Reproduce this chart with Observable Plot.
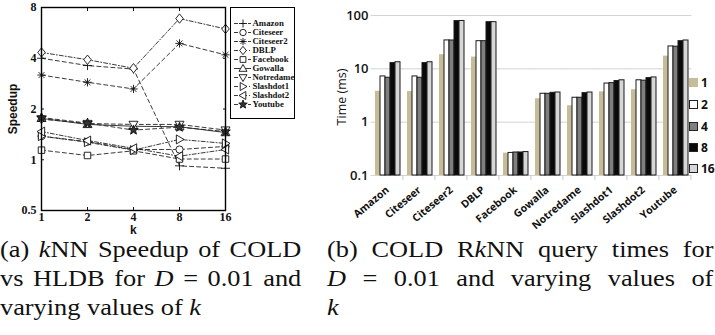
<!DOCTYPE html>
<html><head><meta charset="utf-8">
<script src="https://cdn.jsdelivr.net/npm/d3@7"></script>
<script src="https://cdn.jsdelivr.net/npm/@observablehq/plot@0.6"></script>
<style>
body{margin:0;width:715px;height:335px;overflow:hidden;background:#fff;position:relative}
.abs{position:absolute}
#leg{left:230px;top:7px;border:1px solid #000;background:#fff;line-height:0}
.cap{position:absolute;font-family:"Liberation Serif","Times New Roman",serif;font-size:23.5px;line-height:29px;color:#111;transform:scaleX(1.12);transform-origin:0 0}
.cap div{white-space:nowrap;text-align:justify;text-align-last:justify}
.cap div.last{text-align-last:left}
.lab{position:absolute;font-family:"Liberation Sans",Arial,sans-serif;font-weight:bold;font-size:12px;line-height:12px;color:#111}
#rleg{left:689px;top:0;font-family:"Open Sans",sans-serif;font-weight:bold;font-size:12px;color:#111}
#rleg div{position:absolute;left:0;display:flex;align-items:center;white-space:nowrap}
#rleg span.sw{display:inline-block;width:7px;height:7px;border:1px solid #222;margin-right:3px}
</style></head><body>
<div id="left" class="abs"></div>
<div id="leg" class="abs"></div>
<div id="right" class="abs" style="left:330px;top:0"></div>
<div id="rleg" class="abs"></div>
<div class="lab" style="left:-12px;top:103px;transform:rotate(-90deg)">Speedup</div>
<div class="lab" style="left:130px;top:225px;line-height:10px">k</div>
<div class="lab" style="left:314px;top:90px;transform:rotate(-90deg);font-family:'Open Sans',sans-serif;font-weight:normal;font-size:12.5px;line-height:14px">Time (ms)</div>
<div class="cap" style="left:0;top:235px;width:269px">
  <div>(a) <i>k</i>NN Speedup of COLD</div>
  <div>vs HLDB for <i>D</i> = 0.01 and</div>
  <div class="last">varying values of <i>k</i></div>
</div>
<div class="cap" style="left:327px;top:235px;width:345px">
  <div>(b) COLD R<i>k</i>NN query times for</div>
  <div><i>D</i> = 0.01 and varying values of</div>
  <div class="last"><i>k</i></div>
</div>
<script>
// ---------- Panel (a): kNN speedup ----------
const kValues = [1, 2, 4, 8, 16];
const speedupTicks = [0.5, 1, 2, 4, 8];
const seriesNames = ["Amazon","Citeseer","Citeseer2","DBLP","Facebook","Gowalla","Notredame","Slashdot1","Slashdot2","Youtube"];
const amazon    = [4.0, 3.62, 3.45, 0.92, 0.89];
const citeseer  = [1.38, 1.28, 1.15, 1.15, 1.20];
const citeseer2 = [3.18, 2.88, 2.63, 4.90, 4.19];
const dblp      = [4.33, 3.92, 3.49, 6.88, 5.97];
const facebook  = [1.14, 1.06, 1.13, 1.01, 1.01];
const gowalla   = [1.76, 1.62, 1.58, 1.57, 1.45];
const notredame = [1.74, 1.64, 1.62, 1.62, 1.50];
const slashdot1 = [1.38, 1.27, 1.14, 1.32, 1.25];
const slashdot2 = [1.47, 1.30, 1.17, 1.05, 1.15];
const youtube   = [1.78, 1.65, 1.50, 1.56, 1.47];
const seriesValues = [amazon,citeseer,citeseer2,dblp,facebook,gowalla,notredame,slashdot1,slashdot2,youtube];

const R = s => Math.sqrt(s/Math.PI);
const symbols = {
  plus:{draw(c,s){const r=R(s)*1.25;c.moveTo(-r,0);c.lineTo(r,0);c.moveTo(0,-r);c.lineTo(0,r);}},
  circle:{draw(c,s){const r=R(s);c.moveTo(r,0);c.arc(0,0,r,0,2*Math.PI);}},
  aster:{draw(c,s){const r=R(s)*1.15;for(let a=0;a<4;a++){const t=a*Math.PI/4;c.moveTo(-r*Math.cos(t),-r*Math.sin(t));c.lineTo(r*Math.cos(t),r*Math.sin(t));}}},
  diamond:{draw(c,s){const r=R(s)*1.3;c.moveTo(0,-r);c.lineTo(r*0.8,0);c.lineTo(0,r);c.lineTo(-r*0.8,0);c.closePath();}},
  square:{draw(c,s){const r=R(s)*0.9;c.rect(-r,-r,2*r,2*r);}},
  triUp:{draw(c,s){const r=R(s)*1.25;c.moveTo(0,-r);c.lineTo(r,r*0.7);c.lineTo(-r,r*0.7);c.closePath();}},
  triDown:{draw(c,s){const r=R(s)*1.25;c.moveTo(0,r);c.lineTo(r,-r*0.7);c.lineTo(-r,-r*0.7);c.closePath();}},
  triRight:{draw(c,s){const r=R(s)*1.25;c.moveTo(r,0);c.lineTo(-r*0.7,r);c.lineTo(-r*0.7,-r);c.closePath();}},
  triLeft:{draw(c,s){const r=R(s)*1.25;c.moveTo(-r,0);c.lineTo(r*0.7,r);c.lineTo(r*0.7,-r);c.closePath();}},
  star:{draw(c,s){const r=R(s)*1.4,ri=r*0.42;for(let i=0;i<10;i++){const a=-Math.PI/2+i*Math.PI/5,rr=i%2?ri:r;i?c.lineTo(rr*Math.cos(a),rr*Math.sin(a)):c.moveTo(rr*Math.cos(a),rr*Math.sin(a));}c.closePath();}}
};
const seriesSymbol = ["plus","circle","aster","diamond","square","triUp","triDown","triRight","triLeft","star"];
const seriesFill   = ["none","white","none","white","white","white","white","white","white","#333"];
const seriesDash   = ["4,3","4,3","4,3","4,2,1,2","4,3",null,"4,3","4,2,1,2","4,2,1,2","4,3"];

const leftMarks = [];
seriesNames.forEach((name,i)=>{
  const rows = kValues.map((k,j)=>({k, v: seriesValues[i][j]}));
  leftMarks.push(Plot.line(rows,{x:"k",y:"v",stroke:"#222",strokeWidth:0.9,strokeDasharray:seriesDash[i]}));
});
seriesNames.forEach((name,i)=>{
  const rows = kValues.map((k,j)=>({k, v: seriesValues[i][j]}));
  leftMarks.push(Plot.dot(rows,{x:"k",y:"v",symbol:symbols[seriesSymbol[i]],r:3.6,stroke:"#111",strokeWidth:0.9,fill:seriesFill[i]}));
});

const leftPlot = Plot.plot({
  width:300, height:235, marginLeft:41, marginRight:75, marginTop:7, marginBottom:25,
  style:{fontFamily:"'Liberation Serif','Times New Roman',serif", fontWeight:"bold", fontSize:"12px", color:"#111", background:"transparent"},
  x:{type:"log", base:2, domain:[1,16], label:null},
  y:{type:"log", base:2, domain:[0.5,8], label:null},
  marks:[
    Plot.axisX(kValues,{anchor:"bottom", tickSize:0, tickPadding:2, tickFormat:d=>String(d), label:null}),
    Plot.axisY(speedupTicks,{anchor:"left", tickSize:0, tickPadding:5, tickFormat:d=>String(d), label:null}),
    Plot.axisX(kValues,{anchor:"bottom", tickSize:-3, tickFormat:()=>"", label:null}),
    Plot.axisX(kValues,{anchor:"top", tickSize:-3, tickFormat:()=>"", label:null}),
    Plot.axisY(speedupTicks,{anchor:"left", tickSize:-3, tickFormat:()=>"", label:null}),
    Plot.axisY(speedupTicks,{anchor:"right", tickSize:-3, tickFormat:()=>"", label:null}),
    ...leftMarks,
    Plot.frame({stroke:"#000", strokeWidth:1.4})
  ]
});
document.getElementById("left").appendChild(leftPlot);

// legend for panel (a)
const legMarks = [];
seriesNames.forEach((name,i)=>{
  legMarks.push(Plot.ruleY([name],{y:d=>d, x1:0, x2:1, stroke:"#222", strokeWidth:0.9, strokeDasharray:seriesDash[i]}));
  legMarks.push(Plot.dot([name],{y:d=>d, x:0.5, symbol:symbols[seriesSymbol[i]], r:3.2, stroke:"#111", strokeWidth:0.9, fill:seriesFill[i]}));
});
legMarks.push(Plot.text(seriesNames,{y:d=>d, x:1, text:d=>d, textAnchor:"start", dx:1, fill:"#111"}));
const legPlot = Plot.plot({
  width:63, height:110, margin:0,
  style:{fontFamily:"'Liberation Serif','Times New Roman',serif", fontWeight:"bold", fontSize:"8.8px", background:"transparent"},
  x:{domain:[0,1], range:[3,20], axis:null},
  y:{type:"point", domain:seriesNames, range:[6,105], axis:null},
  marks:legMarks
});
document.getElementById("leg").appendChild(legPlot);

// ---------- Panel (b): RkNN query times ----------
const datasets = ["Amazon","Citeseer","Citeseer2","DBLP","Facebook","Gowalla","Notredame","Slashdot1","Slashdot2","Youtube"];
const kLabels = ["1","2","4","8","16"];
const timeK1  = [3.8, 3.75, 18.4, 16.6, 0.262, 2.75, 2.03, 3.7, 4.05, 17.3];
const timeK2  = [7.2, 7.2, 34.1, 33, 0.265, 3.41, 2.87, 5.3, 6.1, 26.3];
const timeK4  = [6.8, 6.8, 34, 33, 0.27, 3.4, 2.87, 5.4, 6.0, 26];
const timeK8  = [12.8, 12.8, 78.5, 75, 0.27, 3.55, 3.5, 5.9, 6.7, 33];
const timeK16 = [13.3, 13.3, 79, 75, 0.275, 3.6, 3.6, 6.1, 6.9, 34];
const timeSeries = [timeK1,timeK2,timeK4,timeK8,timeK16];
const timeTicks = [0.1, 1, 10, 100];
const barColors = ["#c4bd97","#ffffff","#7f7f7f","#0a0a0a","#d6d6d6"];

const timeRows = datasets.flatMap((d,i)=>kLabels.map((k,j)=>({dataset:d, k, v:timeSeries[j][i]})));
const base = timeTicks[0];
const mL = 44, mR = 27, fxPad = 0.2;
const plotW = 385-mL-mR;
const step = plotW/(datasets.length + fxPad);
const gap = step*fxPad;

const rightPlot = Plot.plot({
  width:385, height:235, marginLeft:mL, marginRight:mR, marginTop:15, marginBottom:60,
  style:{fontFamily:"'Open Sans',sans-serif", fontSize:"13px", color:"#111", background:"transparent", overflow:"visible"},
  fx:{domain:datasets, padding:fxPad, label:null},
  x:{domain:kLabels, padding:0, axis:null},
  y:{type:"log", domain:[0.1,100], label:null},
  color:{domain:kLabels, range:barColors},
  marks:[
    Plot.gridY(timeTicks,{stroke:"#d4d4d4", strokeOpacity:1, insetLeft:-gap/2-0.3, insetRight:-gap/2-0.3}),
    Plot.axisY(timeTicks,{anchor:"left", tickSize:0, tickPadding:6, fontWeight:600, tickFormat:d=>String(d), label:null}),
    Plot.axisFx({anchor:"bottom", tickSize:5, dx:step/2, tickFormat:()=>"", stroke:"#c8c8c8", label:null}),
    Plot.axisFx({anchor:"bottom", tickSize:0, tickPadding:13, tickRotate:-40, fontWeight:"bold", fontSize:10.5, label:null}),
    Plot.barY(timeRows.filter(r=>r.k==="1"),{fx:"dataset", x:"k", y1:()=>base, y2:"v", fill:"k"}),
    Plot.barY(timeRows.filter(r=>r.k!=="1"),{fx:"dataset", x:"k", y1:()=>base, y2:"v", fill:"k", stroke:"#1a1a1a", strokeWidth:1})
  ]
});
document.getElementById("right").appendChild(rightPlot);

// legend for panel (b)
const rleg = document.getElementById("rleg");
const legY = [74, 96, 118, 139, 160];
kLabels.forEach((k,i)=>{
  const row = document.createElement("div");
  row.style.top = legY[i]+"px";
  row.innerHTML = `<span class="sw" style="background:${barColors[i]}${i===0?';border-color:#c4bd97':''}"></span>${k}`;
  rleg.appendChild(row);
});
</script>
</body></html>
